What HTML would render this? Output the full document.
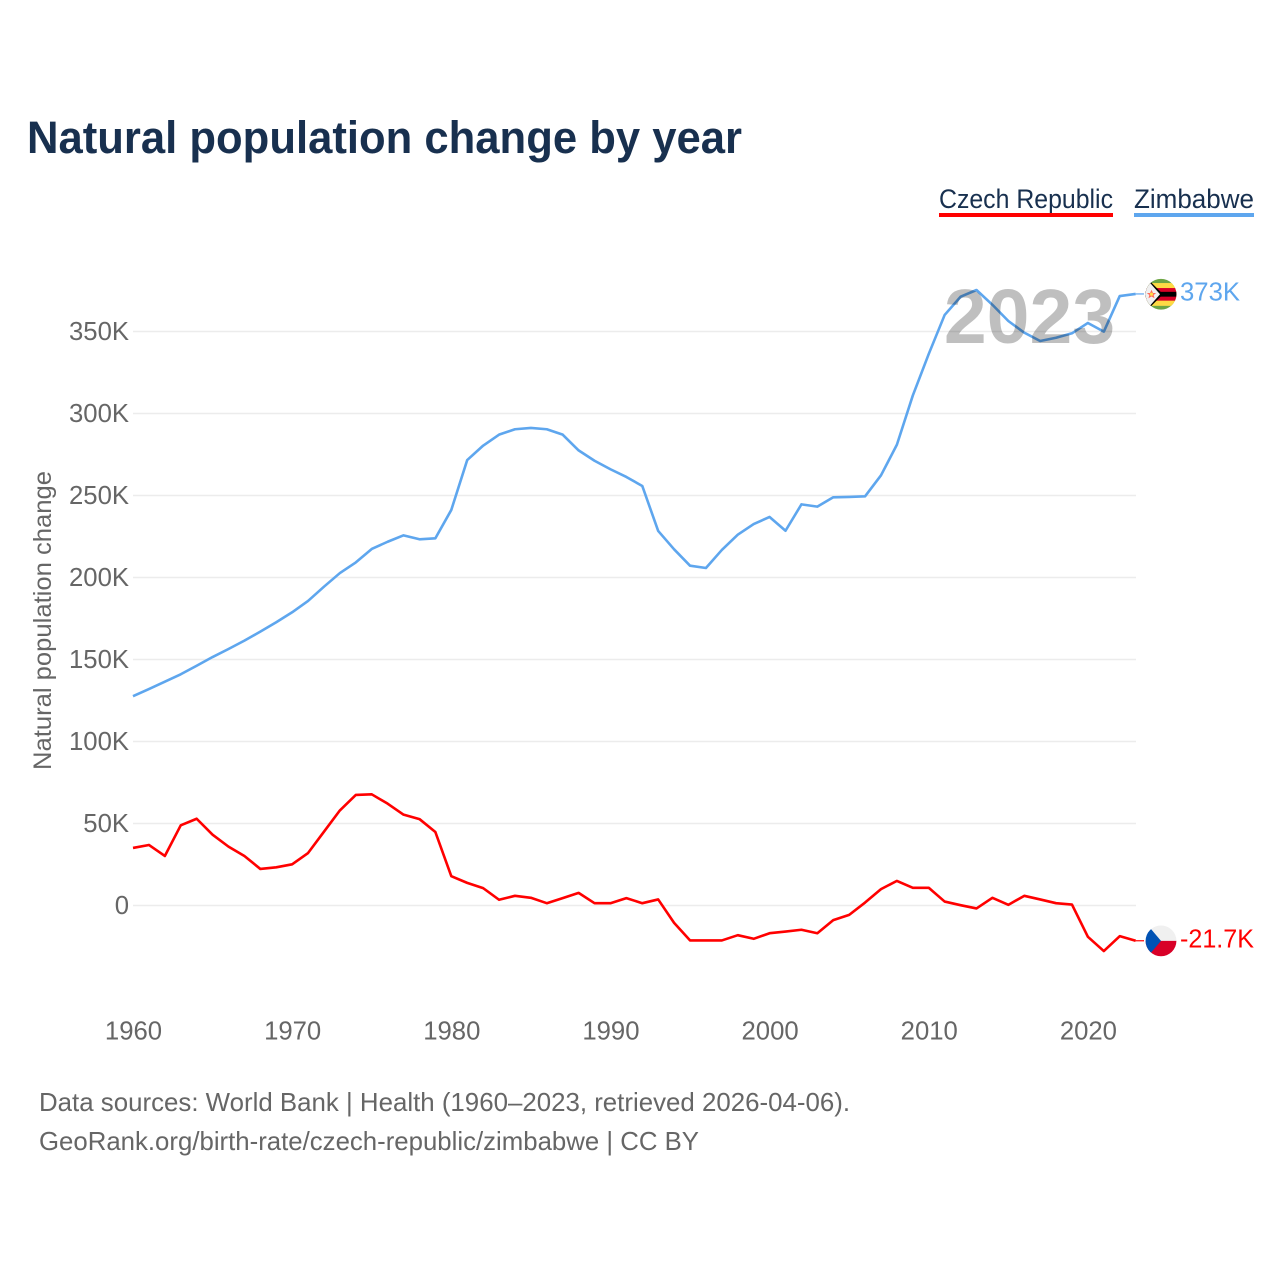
<!DOCTYPE html>
<html lang="en">
<head>
<meta charset="utf-8">
<title>Natural population change by year</title>
<style>
html,body{margin:0;padding:0;background:#fff}
svg{display:block}
text{font-family:"Liberation Sans",sans-serif}
</style>
</head>
<body>
<svg id="chart" xmlns="http://www.w3.org/2000/svg" width="1280" height="1280" viewBox="0 0 1280 1280">
  <defs>
    <clipPath id="flag-clip"><circle cx="0" cy="0" r="15.4"/></clipPath>
  </defs>
  <rect x="0" y="0" width="1280" height="1280" fill="#fff"/>
  <text x="27" y="153" font-size="45" font-weight="700" fill="#18304f" textLength="715" lengthAdjust="spacingAndGlyphs">Natural population change by year</text>

  <g>
    <text x="939" y="208" font-size="27" fill="#18304f" textLength="174" lengthAdjust="spacingAndGlyphs">Czech Republic</text>
    <rect x="939" y="213" width="174" height="4" fill="#ff0000"/>
  </g>
  <g>
    <text x="1134" y="208" font-size="27" fill="#18304f" textLength="120" lengthAdjust="spacingAndGlyphs">Zimbabwe</text>
    <rect x="1134" y="213" width="120" height="4" fill="#5ea6ee"/>
  </g>

  <g id="grid"></g>
  <g id="yticks"></g>
  <g id="xticks"></g>
  <text transform="translate(51 620.5) rotate(-90)" text-anchor="middle" font-size="25" fill="#666" textLength="299" lengthAdjust="spacingAndGlyphs">Natural population change</text>
  <g id="series"></g>

  <text x="1029.5" y="343" text-anchor="middle" font-size="77" font-weight="700" fill="#000" fill-opacity="0.25">2023</text>

  <g id="flag-zimbabwe">
    <g clip-path="url(#flag-clip)">
      <circle cx="0" cy="0" r="16" fill="#6da544"/>
      <rect x="-16" y="-11.2" width="32" height="22.8" fill="#ffda44"/>
      <rect x="-16" y="-6.2" width="32" height="12.6" fill="#d80027"/>
      <rect x="-16" y="-2.4" width="32" height="4.8" fill="#000"/>
      <polygon points="-16,-16 -14,-16 2,0 -14,16 -16,16" fill="#000"/>
      <polygon points="-17,-16 -15,-16 -1,0 -15,16 -17,16" fill="#f0f0f0"/>
      <polygon points="-9.5,-4.5 -8,-1.3 -4.8,-1.3 -7.3,0.8 -6.5,4 -9.5,2.2 -12.5,4 -11.7,0.8 -14.2,-1.3 -11,-1.3" fill="#ff6b5b"/>
      <circle cx="-9.5" cy="0" r="1.6" fill="#ffda44"/>
    </g>
  </g>
  <g id="flag-czech">
    <g clip-path="url(#flag-clip)">
      <rect x="-16" y="-16" width="32" height="16" fill="#f0f0f0"/>
      <rect x="-16" y="0" width="32" height="16" fill="#d80027"/>
      <polygon points="-16,-16 -11,-13 0,0 -11,13 -16,16" fill="#0052b4"/>
    </g>
  </g>
  <g id="end-labels"></g>

  <text x="39" y="1111" font-size="26" fill="#666" textLength="811" lengthAdjust="spacingAndGlyphs">Data sources: World Bank | Health (1960–2023, retrieved 2026-04-06).</text>
  <text x="39" y="1150" font-size="26" fill="#666" textLength="660" lengthAdjust="spacingAndGlyphs">GeoRank.org/birth-rate/czech-republic/zimbabwe | CC BY</text>
</svg>
<script>
const years = [1960,1961,1962,1963,1964,1965,1966,1967,1968,1969,1970,1971,1972,1973,1974,1975,1976,1977,1978,1979,1980,1981,1982,1983,1984,1985,1986,1987,1988,1989,1990,1991,1992,1993,1994,1995,1996,1997,1998,1999,2000,2001,2002,2003,2004,2005,2006,2007,2008,2009,2010,2011,2012,2013,2014,2015,2016,2017,2018,2019,2020,2021,2022,2023];
const zimbabwe = [127.6,132,136.5,141,146.2,151.5,156.4,161.5,167,172.7,178.8,185.7,194.4,202.7,209.2,217.4,221.8,225.7,223.3,223.9,241.2,271.6,280.4,287.1,290.4,291.2,290.4,287.1,277.5,271.2,266,261.3,255.8,228.4,217.2,207.2,205.8,216.8,226.1,232.6,236.9,228.5,244.6,243.2,248.9,249.1,249.5,262.3,281,311,336.3,360.1,371.2,375.3,366.3,356.4,349.3,344.2,346.2,348.9,355.2,349.9,371.6,372.9];
const czech = [35.1,36.9,30.2,48.9,52.9,43.2,35.9,30.2,22.3,23.3,25.1,32,45,58,67.4,67.8,62.1,55.4,52.7,44.8,17.9,13.8,10.6,3.5,5.9,4.7,1.4,4.5,7.7,1.4,1.4,4.5,1.4,3.7,-10.6,-21.3,-21.3,-21.3,-18.1,-20.3,-16.9,-15.9,-14.8,-16.9,-8.9,-5.7,1.8,10,15,10.8,10.8,2.4,0.2,-1.8,4.7,0.4,5.9,3.7,1.4,0.6,-19.1,-27.8,-18.7,-21.5];
const yTickValues = [0,50,100,150,200,250,300,350];
const yTickLabels = ["0","50K","100K","150K","200K","250K","300K","350K"];
const xTickValues = [1960,1970,1980,1990,2000,2010,2020];
const xTickLabels = ["1960","1970","1980","1990","2000","2010","2020"];
const endLabelCzech = "-21.7K";
const endLabelZimbabwe = "373K";

const NS = "http://www.w3.org/2000/svg";
const xScale = function (year) { return 133 + (year - 1960) * 15.915; };
const yScale = function (value) { return 905.5 - value * 1.64; };

function make(tag, attrs, parent, txt) {
  const el = document.createElementNS(NS, tag);
  for (const k in attrs) el.setAttribute(k, attrs[k]);
  if (txt !== undefined) el.textContent = txt;
  parent.appendChild(el);
  return el;
}

const grid = document.getElementById("grid");
const yticks = document.getElementById("yticks");
yTickValues.forEach(function (v, i) {
  const line = make("line", {x1: 133, x2: 1136, y1: yScale(v), y2: yScale(v), stroke: "#ececec", "stroke-width": 1.5}, grid);
  
  
  const label = make("text", {x: 129, y: yScale(v) + 8.5, "text-anchor": "end", "font-size": 25.7, fill: "#666"}, yticks, yTickLabels[i]);
  
  
});

const xticks = document.getElementById("xticks");
xTickValues.forEach(function (v, i) {
  const label = make("text", {x: xScale(v) + 0.5, y: 1039.5, "text-anchor": "middle", "font-size": 25.7, fill: "#666"}, xticks, xTickLabels[i]);
  
  
});

function pointsOf(values) {
  return values.map(function (v, i) { return xScale(years[i]).toFixed(2) + "," + yScale(v).toFixed(2); }).join(" ");
}

const series = document.getElementById("series");
const redLine = make("polyline", {points: pointsOf(czech), fill: "none", stroke: "#ff0000", "stroke-width": 2.6, "stroke-linejoin": "round"}, series);


const blueLine = make("polyline", {points: pointsOf(zimbabwe), fill: "none", stroke: "#5ea6ee", "stroke-width": 2.6, "stroke-linejoin": "round"}, series);



const lastRed = yScale(czech[czech.length - 1]);
const lastBlue = yScale(zimbabwe[zimbabwe.length - 1]);
const xLast = xScale(years[years.length - 1]);

const redLead = make("line", {x1: xLast, x2: 1144, y1: lastRed, y2: lastRed, stroke: "#ff0000", "stroke-width": 1.2}, series);


const blueLead = make("line", {x1: xLast, x2: 1144, y1: lastBlue, y2: lastBlue, stroke: "#5ea6ee", "stroke-width": 1.2}, series);



document.getElementById("flag-zimbabwe").setAttribute("transform", "translate(1161 " + (lastBlue + 0.3) + ")");
document.getElementById("flag-czech").setAttribute("transform", "translate(1161 " + (lastRed + 0.1) + ")");

const endLabels = document.getElementById("end-labels");
const blueEnd = make("text", {x: 1180, y: lastBlue + 6.5, "font-size": 25.7, fill: "#5ea6ee", textLength: 60, lengthAdjust: "spacingAndGlyphs"}, endLabels, endLabelZimbabwe);


const redEnd = make("text", {x: 1180, y: lastRed + 6.5, "font-size": 25.7, fill: "#ff0000", textLength: 74, lengthAdjust: "spacingAndGlyphs"}, endLabels, endLabelCzech);


</script>
</body>
</html>
